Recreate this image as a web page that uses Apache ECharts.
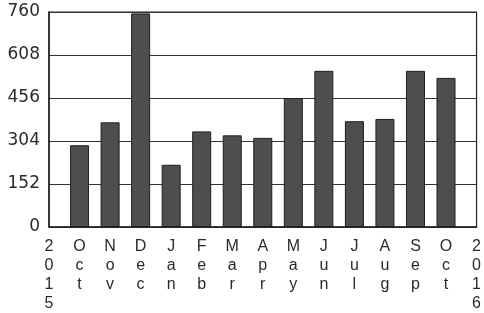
<!DOCTYPE html>
<html>
<head>
<meta charset="utf-8">
<script src="https://cdn.jsdelivr.net/npm/echarts@6/dist/echarts.min.js"></script>
<style>html,body{margin:0;padding:0;background:#fff;}#c{width:484px;height:313px;}</style>
</head>
<body>
<div id="c"></div>
<script>
const categories = ["2015","Oct","Nov","Dec","Jan","Feb","Mar","Apr","May","Jun","Jul","Aug","Sep","Oct","2016"];
const values = [null,289,370,755,220,338,324,315,456,552,374,382,552,527,null];
const yTicks = {min:0, max:760, interval:152};

const chart = echarts.init(document.getElementById('c'), null, {renderer:'canvas'});
chart.setOption({
  animation:false,
  backgroundColor:'#fff',
  grid:{left:49, right:5, top:12, bottom:81, show:true, borderColor:'#222', borderWidth:1.2, backgroundColor:'transparent'},
  xAxis:{
    type:'category', data:categories, boundaryGap:false,
    axisLine:{show:true, lineStyle:{color:'#222', width:1.5}},
    axisTick:{show:false},
    axisLabel:{interval:0, margin:10, color:'#2a2a2a', fontFamily:'Liberation Sans', fontSize:16, lineHeight:19,
      formatter:v=>v.split('').join('\n')},
    splitLine:{show:false}
  },
  yAxis:{
    type:'value', min:yTicks.min, max:yTicks.max, interval:yTicks.interval,
    axisLine:{show:true, lineStyle:{color:'#222', width:1.5}},
    axisTick:{show:false},
    axisLabel:{margin:9, color:'#2a2a2a', fontFamily:'DejaVu Sans', fontSize:17},
    splitLine:{show:true, lineStyle:{color:'#333', width:1.2}}
  },
  series:[{
    type:'bar', data:values, barWidth:19,
    itemStyle:{color:'#4e4e4e', borderColor:'#1e1e1e', borderWidth:1}
  }]
});
</script>
</body>
</html>
